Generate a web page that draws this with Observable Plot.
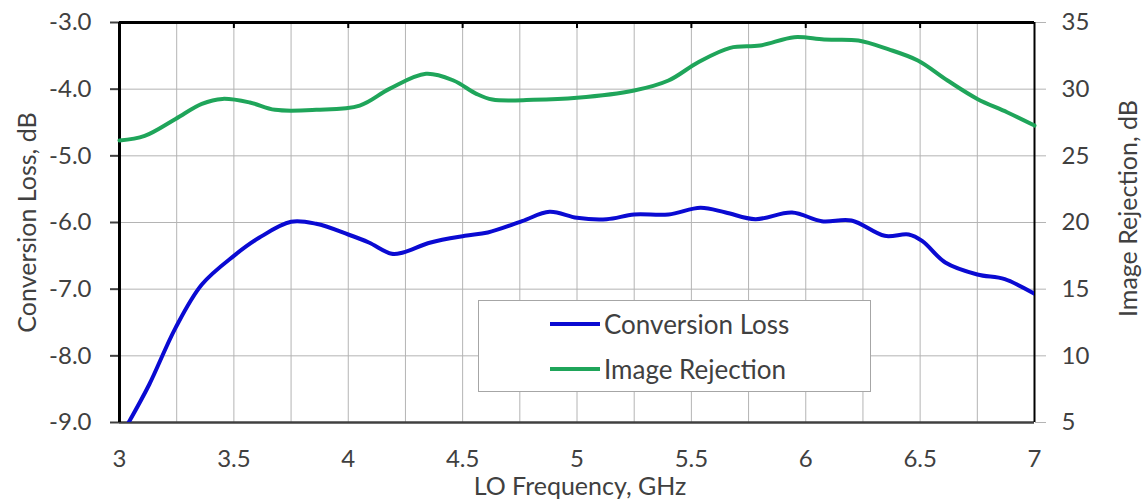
<!DOCTYPE html>
<html>
<head>
<meta charset="utf-8">
<script src="https://cdn.jsdelivr.net/npm/d3@7"></script>
<script src="https://cdn.jsdelivr.net/npm/@observablehq/plot@0.6"></script>
<style>
  html, body { margin: 0; padding: 0; background: #fff; }
  #wrap { position: relative; width: 1146px; height: 503px; font-family: Lato, "Open Sans", sans-serif; color: #404040; }
  #legend { position: absolute; left: 478px; top: 300px; width: 393px; height: 92px; border: 1px solid #a6a6a6; background: #fff; box-sizing: border-box; }
  .row { position: absolute; left: 71px; height: 30px; display: flex; align-items: center; font-size: 26px; color: #404040; white-space: nowrap; }
  .sw { width: 50px; height: 4px; margin-right: 4px; }
</style>
</head>
<body>
<div id="wrap"></div>
<script>
// LO frequency (GHz) and Conversion Loss (dB)
const clFreq = [3.04, 3.13, 3.245, 3.36, 3.50, 3.61, 3.75, 3.86, 4.00, 4.09, 4.19, 4.24, 4.36, 4.51, 4.61, 4.76, 4.88, 5.00, 5.13, 5.25, 5.40, 5.54, 5.65, 5.78, 5.94, 6.07, 6.20, 6.345, 6.45, 6.51, 6.61, 6.75, 6.87, 7.00];
const clVal  = [-9.0, -8.43, -7.58, -6.93, -6.50, -6.23, -5.99, -6.02, -6.18, -6.30, -6.47, -6.45, -6.30, -6.20, -6.15, -5.98, -5.84, -5.93, -5.95, -5.88, -5.88, -5.78, -5.85, -5.95, -5.85, -5.98, -5.97, -6.20, -6.18, -6.28, -6.60, -6.78, -6.85, -7.07];
// LO frequency (GHz) and Image Rejection (dB)
const irFreq = [3.00, 3.11, 3.245, 3.36, 3.45, 3.57, 3.68, 3.86, 4.05, 4.18, 4.34, 4.46, 4.56, 4.63, 4.81, 5.00, 5.25, 5.40, 5.53, 5.67, 5.80, 5.95, 6.08, 6.23, 6.36, 6.49, 6.62, 6.75, 6.88, 7.00];
const irVal  = [26.15, 26.5, 27.77, 28.9, 29.27, 29.0, 28.45, 28.45, 28.77, 30.02, 31.15, 30.65, 29.65, 29.22, 29.2, 29.35, 29.9, 30.65, 32.02, 33.1, 33.27, 33.9, 33.72, 33.65, 33.0, 32.15, 30.65, 29.27, 28.27, 27.27];

const xTicks = [3, 3.5, 4, 4.5, 5, 5.5, 6, 6.5, 7];
const xMinor = [3.25, 3.5, 3.75, 4, 4.25, 4.5, 4.75, 5, 5.25, 5.5, 5.75, 6, 6.25, 6.5, 6.75];
const yTicks = [-9, -8, -7, -6, -5, -4, -3];
const yGrid = [-8, -7, -6, -5, -4];
const irTicks = [5, 10, 15, 20, 25, 30, 35];

const seriesNames = ["Conversion Loss", "Image Rejection"];
const seriesColors = ["#0a0ad2", "#1fa55a"];

// map image rejection (right axis 5..35) onto left axis (-9..-3)
const irToCl = v => (v - 50) / 5;
const clToIr = v => v * 5 + 50;

const cl = clFreq.map((f, i) => ({f, v: clVal[i]}));
const ir = irFreq.map((f, i) => ({f, v: irToCl(irVal[i])}));

const FS = 24;      // tick labels
const TS = 25;      // x title
const RS = 25;      // rotated titles
const textColor = "#404040";

const chart = Plot.plot({
  width: 1146,
  height: 503,
  marginLeft: 119,
  marginRight: 112,
  marginTop: 22,
  marginBottom: 81,
  style: {fontFamily: "Lato, 'Open Sans', sans-serif", fontSize: FS + "px", color: textColor, background: "#fff"},
  x: {domain: [3, 7]},
  y: {domain: [-9, -3]},
  marks: [
    Plot.ruleX(xMinor, {stroke: "#b4b4b4", strokeWidth: 1}),
    Plot.ruleY(yGrid, {stroke: "#b4b4b4", strokeWidth: 1}),
    // right axis outward ticks (grey)
    Plot.axisY({anchor: "right", ticks: irTicks.map(irToCl), tickFormat: d => String(Math.round(clToIr(d))), tickSize: 11, tickPadding: 16, stroke: "#b4b4b4", fontSize: FS, label: null, color: textColor}),
    Plot.axisY({anchor: "left", ticks: yTicks, tickFormat: d => d.toFixed(1), tickSize: 9, tickPadding: 19, fontSize: FS, label: null, strokeWidth: 2}),
    Plot.axisX({anchor: "bottom", ticks: xTicks, tickFormat: d => String(d), tickSize: 0, tickPadding: 27, fontSize: FS, label: null}),
    // frame
    Plot.ruleY([-9], {stroke: "#404040", strokeWidth: 2.5}),
    Plot.ruleY([-3], {stroke: "#000", strokeWidth: 3}),
    Plot.ruleX([3], {stroke: "#000", strokeWidth: 3}),
    Plot.ruleX([7], {stroke: "#000", strokeWidth: 2}),
    Plot.ruleX(xTicks.slice(1, -1), {y1: -3, y2: -3.09, stroke: "#000", strokeWidth: 2}),
    Plot.line(ir, {x: "f", y: "v", stroke: seriesColors[1], strokeWidth: 4, curve: "catmull-rom"}),
    Plot.line(cl, {x: "f", y: "v", stroke: seriesColors[0], strokeWidth: 4, curve: "catmull-rom", clip: true}),
    // axis titles
    Plot.text(["Conversion Loss, dB"], {frameAnchor: "left", textAnchor: "middle", dx: -92, dy: 0, rotate: -90, fontSize: RS, fill: textColor}),
    Plot.text(["Image Rejection, dB"], {frameAnchor: "right", textAnchor: "middle", dx: 94, dy: -14, rotate: -90, fontSize: RS, fill: textColor}),
    Plot.text(["LO Frequency, GHz"], {frameAnchor: "bottom", lineAnchor: "bottom", dx: 3, dy: 72, fontSize: TS, fill: textColor})
  ]
});

const wrap = document.getElementById("wrap");
wrap.appendChild(chart);

const legend = document.createElement("div");
legend.id = "legend";
seriesNames.forEach((name, i) => {
  const row = document.createElement("div");
  row.className = "row";
  row.style.top = (i === 0 ? 8 : 53) + "px";
  const sw = document.createElement("span");
  sw.className = "sw";
  sw.style.background = seriesColors[i];
  const t = document.createElement("span");
  t.textContent = name;
  row.appendChild(sw);
  row.appendChild(t);
  legend.appendChild(row);
});
wrap.appendChild(legend);
</script>
</body>
</html>
